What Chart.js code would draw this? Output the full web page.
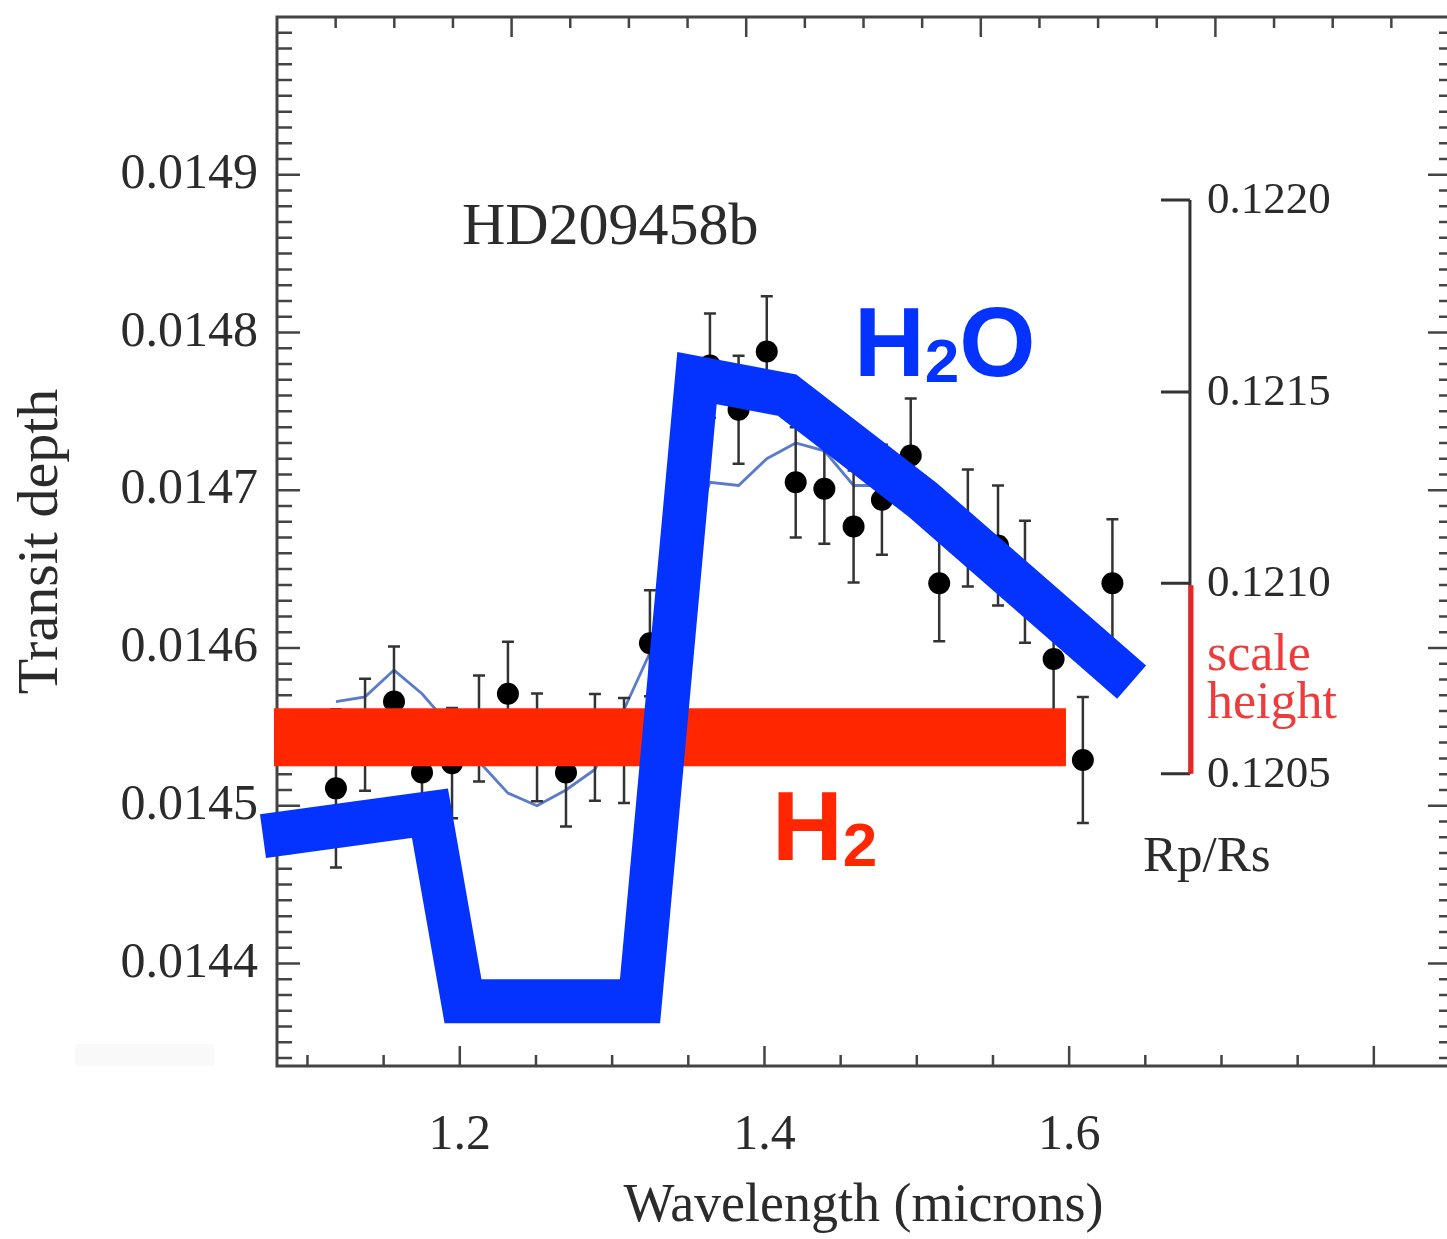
<!DOCTYPE html>
<html>
<head>
<meta charset="utf-8">
<script src="https://cdn.jsdelivr.net/npm/chart.js@4.4.1/dist/chart.umd.min.js"></script>
<style>
  html, body { margin: 0; padding: 0; background: #fff; overflow: hidden; }
  canvas { display: block; }
</style>
</head>
<body>
<canvas id="spectrum" width="1460" height="1239"></canvas>
<script>
// 観測データ（波長 micron / 食の深さ / 誤差）
const wavelengths = [1.1187, 1.1378, 1.1568, 1.1752, 1.1949, 1.2126, 1.2316, 1.2507, 1.2697, 1.2887,
  1.3078, 1.3248, 1.3642, 1.3830, 1.4015, 1.4205, 1.4393, 1.4585, 1.4771, 1.4960,
  1.5147, 1.5335, 1.5533, 1.5710, 1.5898, 1.6090, 1.6284];
const depths = [0.014511, 0.014545, 0.014566, 0.014521, 0.014527, 0.014549, 0.014571, 0.014537, 0.014521, 0.014537,
  0.014535, 0.014603, 0.014779, 0.014751, 0.014788, 0.014705, 0.014701, 0.014677, 0.014694, 0.014722,
  0.014641, 0.014676, 0.014665, 0.014642, 0.014593, 0.014529, 0.014641];
const depthErrors = [0.0000501, 0.0000355, 0.0000349, 0.0000350, 0.0000349, 0.0000336, 0.0000330, 0.0000342, 0.0000342, 0.0000339,
  0.0000333, 0.0000336, 0.0000330, 0.0000342, 0.0000349, 0.0000349, 0.0000349, 0.0000355, 0.0000349, 0.0000361,
  0.0000368, 0.0000371, 0.0000380, 0.0000387, 0.0000393, 0.0000400, 0.0000406];

// モデルスペクトル（細い青線）
const modelWavelengths = [1.1187, 1.1378, 1.1568, 1.1752, 1.1949, 1.2126, 1.2316, 1.2507, 1.2697, 1.2887,
  1.3078, 1.3248, 1.3455, 1.3642, 1.3830, 1.4015, 1.4205, 1.4393, 1.4585, 1.4771];
const modelDepths = [0.014566, 0.014569, 0.014586, 0.014571, 0.014549, 0.014528, 0.014508, 0.014500, 0.014510, 0.014523,
  0.014561, 0.014597, 0.014656, 0.014705, 0.014703, 0.014720, 0.014730, 0.014725, 0.014703, 0.014703];

// H2O の模式線と H2 の水平バー
const h2oWavelengths = [1.0708, 1.1804, 1.2021, 1.3183, 1.3557, 1.4148, 1.5041, 1.6410];
const h2oDepths = [0.0144807, 0.0144952, 0.0143760, 0.0143760, 0.0147711, 0.0147603, 0.0146937, 0.0145784];
const h2Wavelengths = [1.0780, 1.5979];
const h2Depths = [0.0145434, 0.0145434];

// 目盛り
const depthTicks = [0.0144, 0.0145, 0.0146, 0.0147, 0.0148, 0.0149];
const wavelengthTicks = [1.2, 1.4, 1.6];
const radiusTicks = [0.1220, 0.1215, 0.1210, 0.1205];
const rpAxisWavelength = 1.6793;

const SERIF = '"Liberation Serif", "Times New Roman", serif';
const SANS = '"Liberation Sans", Arial, Helvetica, sans-serif';
const INK = '#2b2b2b';
const PLOT_TOP = 17;

const toPoints = (xs, ys) => xs.map((x, i) => ({ x: x, y: ys[i] }));

// 枠と内向きの目盛り線
const framePlugin = {
  id: 'frame',
  beforeDatasetsDraw(chart) {
    const { ctx, chartArea: a, scales: { x, x2, y } } = chart;
    ctx.save();
    ctx.strokeStyle = '#444';
    ctx.lineWidth = 3;
    ctx.strokeRect(a.left, a.top, a.right - a.left, a.bottom - a.top);
    ctx.lineWidth = 2.5;
    ctx.beginPath();
    for (let k = 1434; k <= 1500; k++) {
      const py = y.getPixelForValue(k / 100000);
      if (py < a.top + 1 || py > a.bottom - 1) continue;
      const major = k % 10 === 0;
      ctx.moveTo(a.left, py);
      ctx.lineTo(a.left + (major ? 23 : 15), py);
      ctx.moveTo(a.right, py);
      ctx.lineTo(a.right - (major ? 22 : 11), py);
    }
    for (let k = 22; k <= 36; k++) {
      const px = x.getPixelForValue(k * 0.05);
      const major = k % 4 === 0;
      ctx.moveTo(px, a.bottom);
      ctx.lineTo(px, a.bottom - (major ? 20 : 11));
    }
    for (let k = 1; k < 20; k++) {
      const px = x2.getPixelForValue(k);
      const major = k % 4 === 0;
      ctx.moveTo(px, a.top);
      ctx.lineTo(px, a.top + (major ? 20 : 11));
    }
    ctx.stroke();
    ctx.restore();
  }
};

// 誤差棒（データ点の直前に描く）
const errorBarPlugin = {
  id: 'errorBars',
  beforeDatasetDraw(chart, args) {
    if (args.index !== 2) return;
    const { ctx, scales: { x, y } } = chart;
    ctx.save();
    ctx.strokeStyle = '#333';
    ctx.lineWidth = 2.5;
    ctx.beginPath();
    wavelengths.forEach((w, i) => {
      const px = x.getPixelForValue(w);
      const top = y.getPixelForValue(depths[i] + depthErrors[i]);
      const bot = y.getPixelForValue(depths[i] - depthErrors[i]);
      ctx.moveTo(px, top); ctx.lineTo(px, bot);
      ctx.moveTo(px - 6, top); ctx.lineTo(px + 6, top);
      ctx.moveTo(px - 6, bot); ctx.lineTo(px + 6, bot);
    });
    ctx.stroke();
    ctx.restore();
  }
};

// 下付き文字つきのラベル
function drawFormula(ctx, left, baseline, color) {
  ctx.fillStyle = color;
  ctx.textBaseline = 'alphabetic';
  ctx.textAlign = 'left';
  ctx.font = `bold 98px ${SANS}`;
  ctx.fillText('H', left, baseline);
  let cx = left + ctx.measureText('H').width;
  ctx.font = `bold 62px ${SANS}`;
  ctx.fillText('2', cx, baseline + 6);
  cx += ctx.measureText('2').width;
  return cx;
}

// タイトル・Rp/Rs 軸・分子ラベル
const annotationPlugin = {
  id: 'annotations',
  afterDraw(chart) {
    const { ctx, scales: { x, y } } = chart;
    ctx.save();

    ctx.fillStyle = '#f9f9f9';
    ctx.fillRect(75, 1044, 139, 22);

    ctx.fillStyle = INK;
    ctx.font = `60px ${SERIF}`;
    ctx.textAlign = 'left';
    ctx.textBaseline = 'alphabetic';
    ctx.fillText('HD209458b', x.getPixelForValue(1.2014), y.getPixelForValue(0.0148561));

    // Rp/Rs 軸（深さ = (Rp/Rs)^2）
    const ax = x.getPixelForValue(rpAxisWavelength);
    const yTop = y.getPixelForValue(radiusTicks[0] ** 2);
    const yBot = y.getPixelForValue(radiusTicks[radiusTicks.length - 1] ** 2);
    ctx.strokeStyle = '#333';
    ctx.lineWidth = 3;
    ctx.beginPath();
    ctx.moveTo(ax, yTop); ctx.lineTo(ax, yBot);
    radiusTicks.forEach(r => {
      const py = y.getPixelForValue(r * r);
      ctx.moveTo(ax - 29, py); ctx.lineTo(ax, py);
    });
    ctx.stroke();

    const yMid = y.getPixelForValue(radiusTicks[2] ** 2);
    ctx.strokeStyle = '#ee2222';
    ctx.lineWidth = 5;
    ctx.beginPath();
    ctx.moveTo(ax + 1, yMid + 2); ctx.lineTo(ax + 1, yBot);
    ctx.stroke();

    ctx.fillStyle = INK;
    ctx.font = `45px ${SERIF}`;
    ctx.textBaseline = 'middle';
    radiusTicks.forEach(r => {
      ctx.fillText(r.toFixed(4), ax + 17, y.getPixelForValue(r * r) + 1);
    });

    ctx.textBaseline = 'alphabetic';
    ctx.fillStyle = '#ee3b3b';
    ctx.font = `52px ${SERIF}`;
    ctx.fillText('scale', ax + 17, yMid + 87);
    ctx.fillText('height', ax + 17, yMid + 135);

    ctx.fillStyle = INK;
    ctx.font = `51px ${SERIF}`;
    ctx.fillText('Rp/Rs', ax - 47, yBot + 97);

    // H2O ラベル
    const h2oBase = y.getPixelForValue(0.0147724);
    const oLeft = drawFormula(ctx, x.getPixelForValue(1.4588), h2oBase, '#0433ff');
    ctx.font = `bold 98px ${SANS}`;
    ctx.fillText('O', oLeft, h2oBase);

    // H2 ラベル
    drawFormula(ctx, x.getPixelForValue(1.4049), y.getPixelForValue(0.0144654), '#ff2600');

    ctx.restore();
  }
};

const chart = new Chart(document.getElementById('spectrum'), {
  type: 'scatter',
  data: {
    datasets: [
      {
        label: 'H2O',
        data: toPoints(h2oWavelengths, h2oDepths),
        showLine: true,
        borderColor: '#0433ff',
        borderWidth: 44,
        borderJoinStyle: 'miter',
        borderCapStyle: 'butt',
        pointRadius: 0,
        clip: false,
        order: 0
      },
      {
        label: 'H2',
        data: toPoints(h2Wavelengths, h2Depths),
        showLine: true,
        borderColor: '#ff2600',
        borderWidth: 58,
        borderCapStyle: 'butt',
        pointRadius: 0,
        clip: false,
        order: 1
      },
      {
        label: 'data',
        data: toPoints(wavelengths, depths),
        pointRadius: 11,
        pointBackgroundColor: '#000',
        pointBorderWidth: 0,
        order: 2
      },
      {
        label: 'model',
        data: toPoints(modelWavelengths, modelDepths),
        showLine: true,
        borderColor: '#5a7acb',
        borderWidth: 2.8,
        pointRadius: 0,
        order: 3
      }
    ]
  },
  options: {
    responsive: false,
    animation: false,
    devicePixelRatio: 1,
    events: [],
    layout: { autoPadding: false, padding: { top: PLOT_TOP, right: 10, left: 0, bottom: 0 } },
    plugins: { legend: { display: false }, tooltip: { enabled: false } },
    scales: {
      x: {
        type: 'linear',
        min: 1.08,
        max: 1.85,
        grid: { display: false, drawTicks: false },
        border: { display: false },
        afterBuildTicks: s => { s.ticks = wavelengthTicks.map(v => ({ value: v })); },
        afterFit: s => { s.height = 173; },
        ticks: {
          autoSkip: false,
          maxRotation: 0,
          padding: 40,
          color: INK,
          font: { family: SERIF, size: 50 },
          callback: v => v.toFixed(1)
        },
        title: {
          display: true,
          text: 'Wavelength (microns)',
          color: INK,
          font: { family: SERIF, size: 54 },
          padding: { top: 0, bottom: 0 }
        }
      },
      x2: { type: 'linear', position: 'top', min: 0, max: 20, display: false },
      y: {
        type: 'linear',
        min: 0.014335,
        max: 0.0150,
        grid: { display: false, drawTicks: false },
        border: { display: false },
        afterBuildTicks: s => { s.ticks = depthTicks.map(v => ({ value: v })); },
        afterFit: s => {
          s.width = 277;
          // 目盛りラベル分の余白は不要（枠の上端を固定する）
          s.paddingTop = 0;
          s.paddingBottom = 0;
        },
        ticks: {
          autoSkip: false,
          padding: 19,
          color: INK,
          font: { family: SERIF, size: 50 },
          callback: v => v.toFixed(4)
        },
        title: {
          display: true,
          text: 'Transit depth',
          color: INK,
          font: { family: SERIF, size: 58 },
          padding: { top: 7, bottom: 0 }
        }
      }
    }
  },
  plugins: [framePlugin, errorBarPlugin, annotationPlugin]
});

// 上端がずれた場合はパディングで補正
const shift = chart.chartArea.top - PLOT_TOP;
if (Math.abs(shift) > 0.5) {
  chart.options.layout.padding.top = PLOT_TOP - shift;
  chart.update();
}
</script>
</body>
</html>
